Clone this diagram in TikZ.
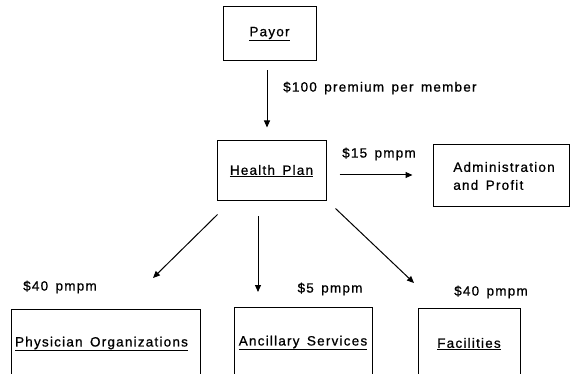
\documentclass[tikz,border=0pt]{standalone}
\usepackage{fontspec}
\setmainfont{Liberation Sans}[LetterSpace=9, WordSpace=1.5, FakeBold=0.8]
\usetikzlibrary{arrows.meta,calc}
\newcommand{\ul}[1]{\underline{#1}}
\begin{document}
\begin{tikzpicture}[x=1pt,y=-1pt,
  every node/.style={font=\fontsize{13.5}{18}\selectfont, inner sep=0pt},
  boxnode/.style={draw, line width=1pt, inner sep=0pt},
  txt/.style={align=left},
  conn/.style={line width=1pt, -{Triangle[length=7pt,width=6pt]}}]
\useasboundingbox (0,0) rectangle (573,374);
\clip (0,0) rectangle (573,374);
% boxes
\node[boxnode, minimum width=93, minimum height=54] (payor) at (269.5,34) {\ul{Payor}};
\node[boxnode, minimum width=109, minimum height=60] (health) at (271.5,171) {\ul{Health Plan}};
\node[boxnode, minimum width=136, minimum height=62] (admin) at (501,176) {};
\node[txt] (adminT) at ($(admin.center)+(3,0)$) {Administration\\and Profit};
\node[boxnode, minimum width=189, minimum height=120, anchor=north] (phys) at (105.5,309) {};
\node (physT) at ($(phys.north)+(-4,35)$) {\ul{Physician Organizations}};
\node[boxnode, minimum width=138, minimum height=120, anchor=north] (anc) at (303,307) {};
\node (ancT) at ($(anc.north)+(0,36)$) {\ul{Ancillary Services}};
\node[boxnode, minimum width=102, minimum height=120, anchor=north] (fac) at (469,308) {};
\node (facT) at ($(fac.north)+(0,36)$) {\ul{Facilities}};
% labels
\node[anchor=west] (l100) at (283,88) {\$100 premium per member};
\node (l15) at (379,154) {\$15 pmpm};
\node (l40a) at (60,287) {\$40 pmpm};
\node (l5) at (330,289) {\$5 pmpm};
\node (l40b) at (491,292) {\$40 pmpm};
% connectors
\draw[conn] ($(payor.south)+(-2.5,9)$) -- ($(health.north)+(-4.5,-13)$);
\draw[conn] ($(health.east)+(13,4)$) -- ($(admin.west)+(-20,-1)$);
\draw[conn] ($(health.south west)+(1,13)$) -- ($(phys.north)+(47.5,-31)$);
\draw[conn] ($(health.south)+(-13.5,15)$) -- ($(anc.north)+(-45,-15)$);
\draw[conn] ($(health.south east)+(9,7)$) -- ($(fac.north)+(-55,-25)$);
\end{tikzpicture}
\end{document}
